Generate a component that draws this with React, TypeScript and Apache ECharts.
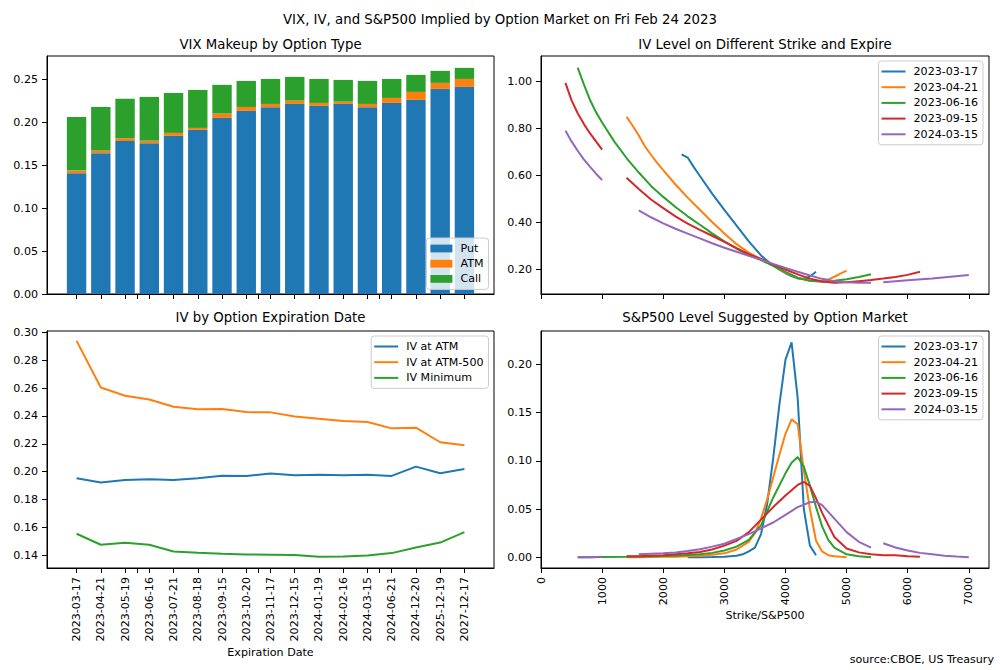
import React, { useEffect, useRef } from "react";
import * as echarts from "echarts";

// ---------- data ----------
const expiryDates = [
  "2023-03-17", "2023-04-21", "2023-05-19", "2023-06-16", "2023-07-21", "2023-08-18",
  "2023-09-15", "2023-10-20", "2023-11-17", "2023-12-15", "2024-01-19", "2024-02-16",
  "2024-03-15", "2024-06-21", "2024-12-20", "2025-12-19", "2027-12-17",
];

const vixPut = [0.1405, 0.1638, 0.1781, 0.1755, 0.184, 0.191, 0.2049, 0.2131, 0.2174, 0.2212, 0.2189, 0.2212, 0.2174, 0.2224, 0.2259, 0.2387, 0.241];
const vixAtm = [0.0031, 0.0031, 0.0032, 0.003, 0.0035, 0.0023, 0.0051, 0.0046, 0.0038, 0.0039, 0.0035, 0.0027, 0.0038, 0.0058, 0.0093, 0.007, 0.0093];
const vixCall = [0.0625, 0.0508, 0.0458, 0.0509, 0.0465, 0.0442, 0.0334, 0.0303, 0.0291, 0.0276, 0.0279, 0.0253, 0.0268, 0.0221, 0.0198, 0.014, 0.0129];

const ivAtm = [0.1952, 0.1921, 0.194, 0.1945, 0.194, 0.1952, 0.1971, 0.1969, 0.1986, 0.1974, 0.1978, 0.1974, 0.1978, 0.1969, 0.2036, 0.1988, 0.2019];
const ivAtm500 = [0.294, 0.2605, 0.2545, 0.2519, 0.2466, 0.2448, 0.245, 0.2428, 0.2426, 0.2397, 0.238, 0.2364, 0.2357, 0.2311, 0.2316, 0.2211, 0.2189];
const ivMin = [0.1553, 0.1474, 0.1488, 0.1474, 0.1426, 0.1416, 0.1409, 0.1404, 0.1402, 0.14, 0.1388, 0.139, 0.1397, 0.1414, 0.1455, 0.149, 0.1565];

const curveExpiries = ["2023-03-17", "2023-04-21", "2023-06-16", "2023-09-15", "2024-03-15"];

// IV smile: [strike, implied vol]; null breaks the line
const ivSmile0317 = [[2300,0.69],[2400,0.676],[2500,0.635],[2600,0.597],[2800,0.522],[3000,0.453],[3200,0.385],[3400,0.318],[3600,0.258],[3700,0.235],[3800,0.214],[3900,0.197],[4000,0.182],[4100,0.17],[4200,0.16],[4300,0.158],[4400,0.168],[4500,0.188]];
const ivSmile0421 = [[1400,0.85],[1500,0.812],[1600,0.77],[1700,0.724],[1800,0.688],[1900,0.653],[2000,0.622],[2200,0.561],[2400,0.505],[2600,0.453],[2800,0.401],[3000,0.352],[3200,0.306],[3400,0.27],[3600,0.242],[3800,0.214],[4000,0.185],[4200,0.163],[4400,0.15],[4600,0.15],[4700,0.155],[4800,0.167],[4900,0.18],[5000,0.193]];
const ivSmile0616 = [[600,1.06],[700,0.99],[800,0.923],[900,0.87],[1000,0.826],[1200,0.744],[1400,0.674],[1600,0.612],[1800,0.555],[2000,0.508],[2200,0.465],[2400,0.425],[2600,0.389],[2800,0.352],[3000,0.318],[3200,0.287],[3400,0.259],[3600,0.238],[3800,0.214],[4000,0.188],[4200,0.162],[4400,0.15],[4600,0.146],[4800,0.15],[5000,0.156],[5200,0.166],[5400,0.178]];
const ivSmile0915 = [[400,0.995],[500,0.92],[600,0.865],[700,0.82],[800,0.78],[900,0.745],[1000,0.71],[1200,null],[1400,0.59],[1600,0.542],[1800,0.497],[2000,0.46],[2200,0.425],[2400,0.394],[2600,0.367],[2800,0.342],[3000,0.316],[3200,0.289],[3400,0.263],[3600,0.243],[3800,0.219],[4000,0.198],[4200,0.177],[4400,0.159],[4600,0.147],[4800,0.141],[5000,0.143],[5200,0.148],[5400,0.153],[5600,0.159],[5800,0.166],[6000,0.175],[6200,0.188]];
const ivSmile0315 = [[400,0.79],[500,0.745],[600,0.705],[700,0.668],[800,0.637],[900,0.607],[1000,0.58],[1200,null],[1600,0.45],[1800,0.421],[2000,0.395],[2200,0.372],[2400,0.351],[2600,0.331],[2800,0.31],[3000,0.291],[3200,0.274],[3400,0.256],[3600,0.24],[3800,0.222],[4000,0.205],[4200,0.188],[4400,0.172],[4600,0.158],[4800,0.148],[5000,0.143],[5200,0.141],[5400,0.141],[5500,null],[5600,0.143],[6000,0.152],[6400,0.16],[7000,0.174]];

// implied S&P500 distribution: [level, probability]
const density0317 = [[2400,0],[2600,0],[2800,0.0002],[3000,0.0005],[3200,0.0015],[3300,0.003],[3400,0.006],[3500,0.01],[3600,0.024],[3700,0.055],[3800,0.103],[3900,0.158],[4000,0.205],[4100,0.223],[4200,0.165],[4300,0.05],[4400,0.012],[4500,0.002]];
const density0421 = [[1400,0],[1600,0],[1800,0.0002],[2000,0.0004],[2200,0.0006],[2400,0.001],[2600,0.0015],[2800,0.0025],[3000,0.004],[3200,0.008],[3400,0.016],[3500,0.025],[3600,0.04],[3700,0.06],[3800,0.083],[3900,0.106],[4000,0.128],[4100,0.143],[4200,0.138],[4300,0.09],[4400,0.05],[4500,0.017],[4600,0.006],[4700,0.002],[4800,0.001],[5000,0]];
const density0616 = [[600,0],[800,0],[1000,0.0002],[1400,0.0005],[1800,0.001],[2200,0.0015],[2600,0.003],[2800,0.0045],[3000,0.007],[3200,0.011],[3400,0.018],[3600,0.033],[3800,0.062],[4000,0.087],[4100,0.098],[4200,0.104],[4300,0.094],[4400,0.074],[4500,0.052],[4600,0.032],[4700,0.018],[4800,0.01],[5000,0.003],[5200,0.001],[5400,0]];
const density0915 = [[1400,0.001],[1600,0.001],[1800,0.0015],[2000,0.002],[2200,0.003],[2400,0.004],[2600,0.0055],[2800,0.008],[3000,0.012],[3200,0.017],[3400,0.026],[3600,0.039],[3800,0.052],[4000,0.064],[4200,0.075],[4300,0.078],[4400,0.074],[4500,0.061],[4600,0.046],[4800,0.021],[5000,0.009],[5200,0.005],[5400,0.003],[5600,0.002],[5800,0.002],[6000,0.001],[6200,0.0005]];
const density0315 = [[600,0],[800,0],[1000,0.0005],[1200,null],[1600,0.003],[1800,0.0035],[2000,0.004],[2200,0.005],[2400,0.0065],[2600,0.0083],[2800,0.011],[3000,0.014],[3200,0.019],[3400,0.024],[3600,0.03],[3800,0.036],[4000,0.044],[4200,0.052],[4400,0.057],[4500,0.0575],[4600,0.054],[4800,0.04],[5000,0.026],[5200,0.016],[5400,0.01],[5500,null],[5600,0.0145],[5800,0.01],[6000,0.007],[6200,0.0045],[6400,0.003],[6600,0.0015],[6800,0.0007],[7000,0]];

// tick labels
const catTicks = [0, 1, 2, 2.5, 3, 4, 5, 6, 7, 7.5, 8, 9, 10, 11, 12, 12.5, 13, 14, 15, 16];
const catLabels = [0, 1, 2, 3, 4, 5, 6, 7, 8, 9, 10, 11, 12, 13, 14, 15, 16];
const strikeTicks = [0, 1000, 2000, 3000, 4000, 5000, 6000, 7000];
const vixTicks = [0, 0.05, 0.1, 0.15, 0.2, 0.25];
const smileTicks = [0.2, 0.4, 0.6, 0.8, 1.0];
const ivTicks = [0.14, 0.16, 0.18, 0.2, 0.22, 0.24, 0.26, 0.28, 0.3];
const densityTicks = [0, 0.05, 0.1, 0.15, 0.2];

const FONT = "DejaVu Sans";
const COLORS = ["#1f77b4", "#ff7f0e", "#2ca02c", "#d62728", "#9467bd"];

function makeXAxis(grid: number, min: number, max: number, ticks: number[], labels: number[] | null, fmt?: (v: number) => string) {
  return {
    type: "value",
    gridIndex: grid,
    min,
    max,
    axisLine: { show: true, onZero: false, lineStyle: { color: "#000", width: 1 } },
    axisTick: { show: true, length: 5, customValues: ticks, lineStyle: { color: "#000", width: 1 } },
    splitLine: { show: false },
    axisLabel: labels
      ? { show: true, customValues: labels, rotate: 90, margin: 9, color: "#000", fontSize: 11.1, fontFamily: FONT, formatter: fmt }
      : { show: false },
  };
}

function makeYAxis(grid: number, min: number, max: number, ticks: number[]) {
  return {
    type: "value",
    gridIndex: grid,
    min,
    max,
    axisLine: { show: true, onZero: false, lineStyle: { color: "#000", width: 1 } },
    axisTick: { show: true, length: 5, customValues: ticks, lineStyle: { color: "#000", width: 1 } },
    splitLine: { show: false },
    axisLabel: {
      show: true,
      customValues: ticks,
      margin: 9,
      color: "#000",
      fontSize: 11.1,
      fontFamily: FONT,
      formatter: (v: number) => v.toFixed(2),
    },
  };
}

function lineSeries(name: string, data: any[], xi: number, yi: number, color: string) {
  return {
    type: "line",
    name,
    xAxisIndex: xi,
    yAxisIndex: yi,
    data,
    symbol: "none",
    showSymbol: false,
    connectNulls: false,
    lineStyle: { width: 2, color },
    itemStyle: { color },
    emphasis: { disabled: true },
  };
}

function barSeries(name: string, values: number[], color: string) {
  // value first, category index second, so that the stack runs along y
  return {
    type: "bar",
    name,
    xAxisIndex: 0,
    yAxisIndex: 0,
    stack: "vix",
    barWidth: 19.4,
    dimensions: ["value", "pos"],
    encode: { x: 1, y: 0 },
    data: values.map((v, i) => [v, i]),
    itemStyle: { color },
    emphasis: { disabled: true },
  };
}

function legendBase(extra: any) {
  return {
    orient: "vertical",
    align: "left",
    backgroundColor: "rgba(255,255,255,0.8)",
    borderColor: "#cccccc",
    borderWidth: 1,
    borderRadius: 3,
    padding: [4, 5, 4, 3],
    itemGap: 2.7,
    itemWidth: 24,
    itemHeight: 2,
    icon: "rect",
    selectedMode: false,
    textStyle: { color: "#000", fontSize: 11.1, fontFamily: FONT, lineHeight: 13, padding: [0, 0, 0, 3] },
    ...extra,
  };
}

function txt(text: string, x: number, y: number, size: number, align = "center") {
  return {
    type: "text",
    x,
    y,
    style: { text, fill: "#000", font: `${size}px "${FONT}"`, align, verticalAlign: "middle" },
  };
}

export default function App() {
  const ref = useRef<HTMLDivElement>(null);
  useEffect(() => {
    if (!ref.current) return;
    const chart = echarts.init(ref.current, null, { renderer: "svg" });
    const idx = (arr: number[]) => arr.map((v, i) => [i, v]);
    const smiles = [ivSmile0317, ivSmile0421, ivSmile0616, ivSmile0915, ivSmile0315];
    const dens = [density0317, density0421, density0616, density0915, density0315];
    const gridBase = { show: true, borderColor: "#000", borderWidth: 1, containLabel: false, outerBoundsMode: "none" };
    const option: any = {
      animation: false,
      textStyle: { fontFamily: FONT },
      grid: [
        { ...gridBase, left: 47, top: 56, width: 447, height: 238 },
        { ...gridBase, left: 541, top: 56, width: 448, height: 238 },
        { ...gridBase, left: 47, top: 331, width: 447, height: 237 },
        { ...gridBase, left: 541, top: 331, width: 448, height: 237 },
      ],
      xAxis: [
        makeXAxis(0, -1.22, 17.22, catTicks, null),
        makeXAxis(1, 0, 7330, strikeTicks, null),
        makeXAxis(2, -1.22, 17.22, catTicks, catLabels, (v: number) => expiryDates[Math.round(v)] ?? ""),
        makeXAxis(3, 0, 7330, strikeTicks, strikeTicks, (v: number) => String(Math.round(v))),
      ],
      yAxis: [
        makeYAxis(0, 0, 0.277, vixTicks),
        makeYAxis(1, 0.0933, 1.1097, smileTicks),
        makeYAxis(2, 0.1307, 0.3011, ivTicks),
        makeYAxis(3, -0.0112, 0.2347, densityTicks),
      ],
      legend: [
        legendBase({
          data: ["Put", "ATM", "Call"],
          right: 511.5,
          top: 238,
          itemWidth: 22,
          itemHeight: 7.8,
          itemGap: 2.2,
          padding: [4, 5, 4, 4],
        }),
        legendBase({ data: curveExpiries, right: 17, top: 61 }),
        legendBase({ data: ["IV at ATM", "IV at ATM-500", "IV Minimum"], right: 511.5, top: 336 }),
        legendBase({ data: curveExpiries, right: 17, top: 336 }),
      ],
      series: [
        barSeries("Put", vixPut, COLORS[0]),
        barSeries("ATM", vixAtm, COLORS[1]),
        barSeries("Call", vixCall, COLORS[2]),
        ...smiles.map((d, i) => lineSeries(curveExpiries[i], d, 1, 1, COLORS[i])),
        lineSeries("IV at ATM", idx(ivAtm), 2, 2, COLORS[0]),
        lineSeries("IV at ATM-500", idx(ivAtm500), 2, 2, COLORS[1]),
        lineSeries("IV Minimum", idx(ivMin), 2, 2, COLORS[2]),
        ...dens.map((d, i) => lineSeries(curveExpiries[i], d, 3, 3, COLORS[i])),
      ],
      graphic: [
        txt("VIX, IV, and S&P500 Implied by Option Market on Fri Feb 24 2023", 500, 19, 13.3),
        txt("VIX Makeup by Option Type", 270.5, 44, 13.3),
        txt("IV Level on Different Strike and Expire", 765, 44, 13.3),
        txt("IV by Option Expiration Date", 270.5, 317.5, 13.3),
        txt("S&P500 Level Suggested by Option Market", 765, 317.5, 13.3),
        txt("Expiration Date", 270.5, 652, 11.1),
        txt("Strike/S&P500", 765, 615, 11.1),
        txt("source:CBOE, US Treasury", 994, 659, 11.1, "right"),
      ],
    };
    chart.setOption(option);
    return () => chart.dispose();
  }, []);
  return (
    <div
      ref={ref}
      style={{ position: "fixed", left: 0, top: 0, width: 1000, height: 670, background: "#fff" }}
    />
  );
}
